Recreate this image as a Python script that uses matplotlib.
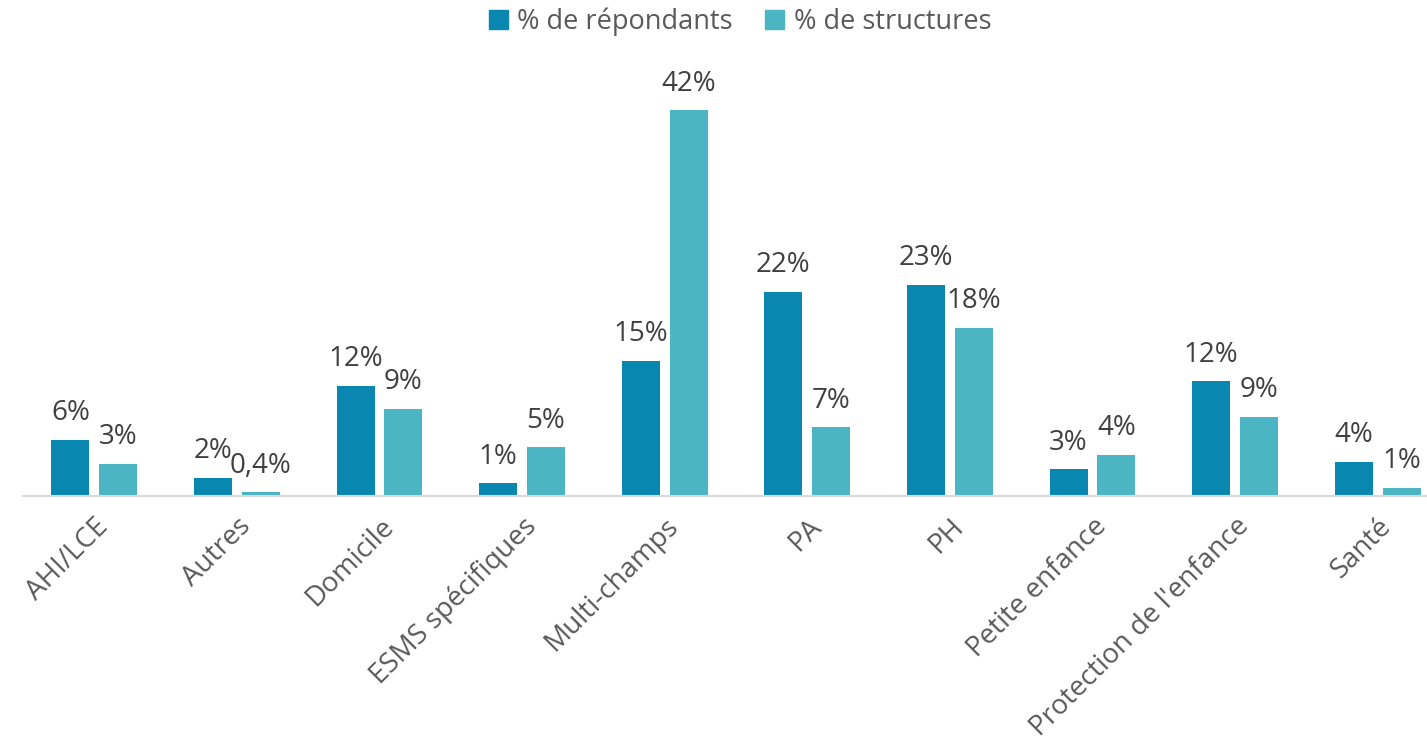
import matplotlib
matplotlib.use("Agg")
import matplotlib.pyplot as plt
import numpy as np
from matplotlib.patches import Patch

categories = ["AHI/LCE", "Autres", "Domicile", "ESMS spécifiques", "Multi-champs",
              "PA", "PH", "Petite enfance", "Protection de l'enfance", "Santé"]
repondants = [6.1, 2.0, 12.0, 1.4, 14.7, 22.2, 23.0, 2.9, 12.5, 3.7]
structures = [3.5, 0.4, 9.5, 5.3, 42.0, 7.5, 18.3, 4.5, 8.6, 0.9]
labels_rep = ["6%", "2%", "12%", "1%", "15%", "22%", "23%", "3%", "12%", "4%"]
labels_str = ["3%", "0,4%", "9%", "5%", "42%", "7%", "18%", "4%", "9%", "1%"]

c_rep = "#0A87B0"
c_str = "#4BB5C4"
plt.rcParams['font.family'] = ['Open Sans', 'DejaVu Sans']

W, H = 1427, 756
fig = plt.figure(figsize=(W/100, H/100), dpi=100)
left_px, right_px = 23, 1449
base_px, top_px = 496, 60
ax = fig.add_axes([left_px/W, (H-base_px)/H, (right_px-left_px)/W, (base_px-top_px)/H])
px_per_unit = (496-110)/42.0
ax.set_ylim(0, (base_px-top_px)/px_per_unit)
ax.set_xlim(-0.5, len(categories)-0.5)

x = np.arange(len(categories))
bw = 0.266
off = 0.168
b1 = ax.bar(x-off, repondants, bw, color=c_rep)
b2 = ax.bar(x+off, structures, bw, color=c_str)

for bars, labs in ((b1, labels_rep), (b2, labels_str)):
    for b, l in zip(bars, labs):
        ax.annotate(l, (b.get_x()+b.get_width()/2, b.get_height()),
                    xytext=(0, 9), textcoords="offset points",
                    ha="center", va="bottom", fontsize=20, color="#404040")

for s in ["top", "right", "left"]:
    ax.spines[s].set_visible(False)
ax.spines["bottom"].set_color("#D9D9D9")
ax.spines["bottom"].set_linewidth(1.5)
ax.set_yticks([])
ax.set_xticks(x)
ax.set_xticklabels(categories, rotation=45, ha="right", va="top",
                   rotation_mode="anchor", fontsize=20, color="#595959")
ax.tick_params(axis="x", length=0, pad=12)

handles = [Patch(color=c_rep), Patch(color=c_str)]
fig.legend(handles, ["% de répondants", "% de structures"], loc="center",
           bbox_to_anchor=(740/W, 1-22/H), ncol=2, frameon=False,
           fontsize=19.5, labelcolor="#595959", handlelength=0.7, handleheight=0.7,
           handletextpad=0.35, columnspacing=1.2)

fig.savefig("out.png", dpi=100)
